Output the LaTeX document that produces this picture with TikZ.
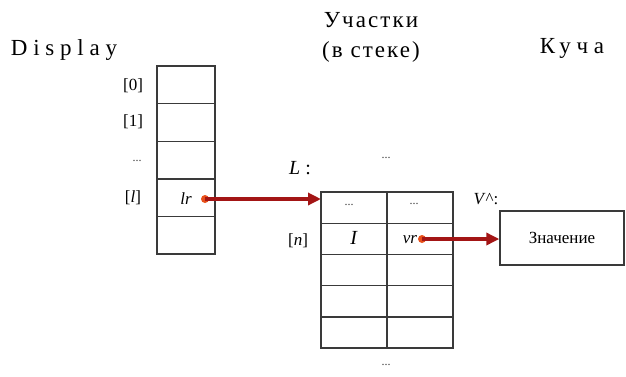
\documentclass[tikz,border=0pt]{standalone}
\usepackage{fontspec}
\setmainfont{Liberation Serif}
\usetikzlibrary{arrows.meta,calc}
\definecolor{arr}{HTML}{A31515}
\definecolor{dotc}{HTML}{E8501A}
\definecolor{ln}{HTML}{3A3A3A}
\tikzset{
  x=1pt,y=-1pt,
  head/.style={font=\fontsize{23}{30}\selectfont\addfontfeature{LetterSpace=9}, inner sep=0},
  widehead/.style={font=\fontsize{23}{30}\selectfont\addfontfeature{LetterSpace=25}, inner sep=0},
  dcell/.style={draw=ln, line width=1.4pt, minimum width=58pt, minimum height=37.6pt, inner sep=0, outer sep=0},
  tcell/.style={draw=ln, line width=1.4pt, minimum width=66pt, minimum height=31.2pt, inner sep=0, outer sep=0},
  lbl/.style={font=\fontsize{17}{20}\selectfont, inner sep=0},
  dots/.style={font=\fontsize{12}{12}\selectfont, inner sep=0, text=ln},
  ptr/.style={draw=arr, line width=3.4pt, -{Triangle[length=13pt,width=12pt]}},
  pdot/.style={circle, fill=dotc, minimum size=8pt, inner sep=0},
}
\begin{document}
\begin{tikzpicture}
\useasboundingbox (0,0) rectangle (626,376);
% headers
\node[widehead] (hdisp) at (64,50) {Display};
\node[head, align=center] (hstack) at (371,37) {Участки\\(в стеке)};
\node[widehead] (hheap) at (572,48) {Куча};
% display column
\node[dcell] (d0) at (186,84.8) {};
\node[dcell] (d1) at (186,122.4) {};
\node[dcell] (d2) at (186,160) {};
\node[dcell] (d3) at (186,197.6) {};
\node[dcell] (d4) at (186,235.2) {};
\node[lbl] (l0) at (133,86) {[0]};
\node[lbl] (l1) at (133,122) {[1]};
\node[dots] (ld) at (137,161) {...};
\node[lbl] (ll) at (133,198) {[\textit{l}]};
\node[lbl] (lr) at (186,199) {\textit{lr}};
% stack frame table
\node[tcell] (t11) at (354,207.6) {};
\node[tcell] (t12) at (420,207.6) {};
\node[tcell] (t21) at (354,238.8) {};
\node[tcell] (t22) at (420,238.8) {};
\node[tcell] (t31) at (354,270) {};
\node[tcell] (t32) at (420,270) {};
\node[tcell] (t41) at (354,301.2) {};
\node[tcell] (t42) at (420,301.2) {};
\node[tcell] (t51) at (354,332.4) {};
\node[tcell] (t52) at (420,332.4) {};
\node[dots] (dtop) at (386,158) {...};
\node[dots] (d11) at (349,205) {...};
\node[dots] (d12) at (414,204) {...};
\node[dots] (dbot) at (386,365) {...};
\node[lbl, font=\fontsize{20}{22}\selectfont] (Ll) at (300,168) {\textit{L} :};
\node[lbl] (ln) at (298,241) {[\textit{n}]};
\node[lbl, font=\fontsize{20}{22}\selectfont] (Ic) at (354,238) {\textit{I}};
\node[lbl] (vr) at (410,240) {\textit{vr}};
\node[lbl] (vl) at (486,199) {\textit{V}\^{}:};
% heap
\node[draw=ln, line width=1.4pt, minimum width=124pt, minimum height=54pt, inner sep=0] (val) at (562,238) {};
\node[lbl] (valt) at (562,238) {Значение};
% pointers
\node[pdot] (p1) at (205,199) {};
\coordinate (p1e) at (t11.west |- p1);
\draw[ptr] (p1.center) -- (p1e);
\node[pdot] (p2) at (422,239) {};
\draw[ptr] (p2.center) -- (val.west |- p2);
\end{tikzpicture}
\end{document}
